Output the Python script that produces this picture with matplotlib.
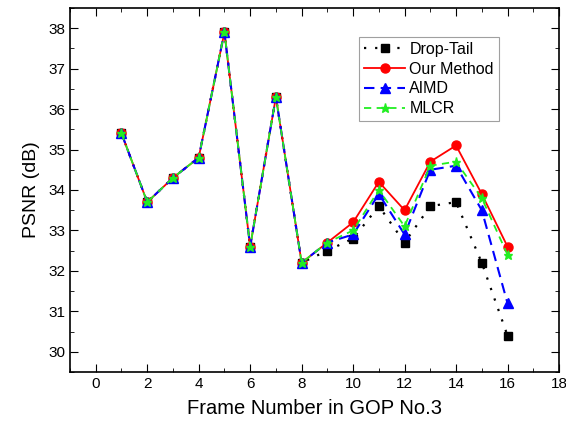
import matplotlib
matplotlib.use('Agg')
import matplotlib.pyplot as plt
from matplotlib.ticker import MultipleLocator

plt.rcParams['font.family'] = ['Liberation Sans', 'DejaVu Sans']

# PSNR per frame in GOP No.3
frames = [1, 2, 3, 4, 5, 6, 7, 8, 9, 10, 11, 12, 13, 14, 15, 16]
drop_tail = [35.4, 33.7, 34.3, 34.8, 37.9, 32.6, 36.3, 32.2, 32.5, 32.8, 33.6, 32.7, 33.6, 33.7, 32.2, 30.4]
our_method = [35.4, 33.7, 34.3, 34.8, 37.9, 32.6, 36.3, 32.2, 32.7, 33.2, 34.2, 33.5, 34.7, 35.1, 33.9, 32.6]
aimd = [35.4, 33.7, 34.3, 34.8, 37.9, 32.6, 36.3, 32.2, 32.7, 32.9, 33.9, 32.9, 34.5, 34.6, 33.5, 31.2]
mlcr = [35.4, 33.7, 34.3, 34.8, 37.9, 32.6, 36.3, 32.2, 32.7, 33.0, 34.0, 33.1, 34.6, 34.7, 33.8, 32.4]

fig = plt.figure(figsize=(5.66, 4.34), dpi=100)
ax = fig.add_axes([0.1237, 0.1429, 0.8639, 0.8387])

ax.plot(frames, drop_tail, color='black', linestyle=(0, (1, 4)), linewidth=1.6,
        marker='s', markersize=5.5, label='Drop-Tail')
ax.plot(frames, our_method, color='red', linestyle='-', linewidth=1.3,
        marker='o', markersize=6.5, label='Our Method')
ax.plot(frames, aimd, color='blue', linestyle=(0, (5, 3)), linewidth=1.5,
        marker='^', markersize=6.5, label='AIMD')
ax.plot(frames, mlcr, color='#22ee22', linestyle=(0, (4, 3)), linewidth=1.3,
        marker='*', markersize=6.5, label='MLCR')

ax.set_xlim(-1, 18)
ax.set_ylim(29.5, 38.5)
ax.xaxis.set_major_locator(MultipleLocator(2))
ax.xaxis.set_minor_locator(MultipleLocator(1))
ax.yaxis.set_major_locator(MultipleLocator(1))
ax.yaxis.set_minor_locator(MultipleLocator(0.5))
ax.tick_params(which='both', direction='in', top=True, right=True, labelsize=11)
ax.tick_params(which='major', length=6)
ax.tick_params(which='minor', length=3)
for s in ax.spines.values():
    s.set_linewidth(1.2)

ax.set_xlabel('Frame Number in GOP No.3', fontsize=14.5, labelpad=6)
ax.set_ylabel('PSNR (dB)', fontsize=14, labelpad=6)

leg = ax.legend(loc='upper left', bbox_to_anchor=(0.591, 0.920), borderaxespad=0,
                fontsize=11.5, frameon=True, fancybox=False, edgecolor='#888888',
                handlelength=2.6, borderpad=0.3, labelspacing=0.3, handletextpad=0.25)
leg.get_frame().set_linewidth(0.8)

fig.savefig('out.png', dpi=100)
